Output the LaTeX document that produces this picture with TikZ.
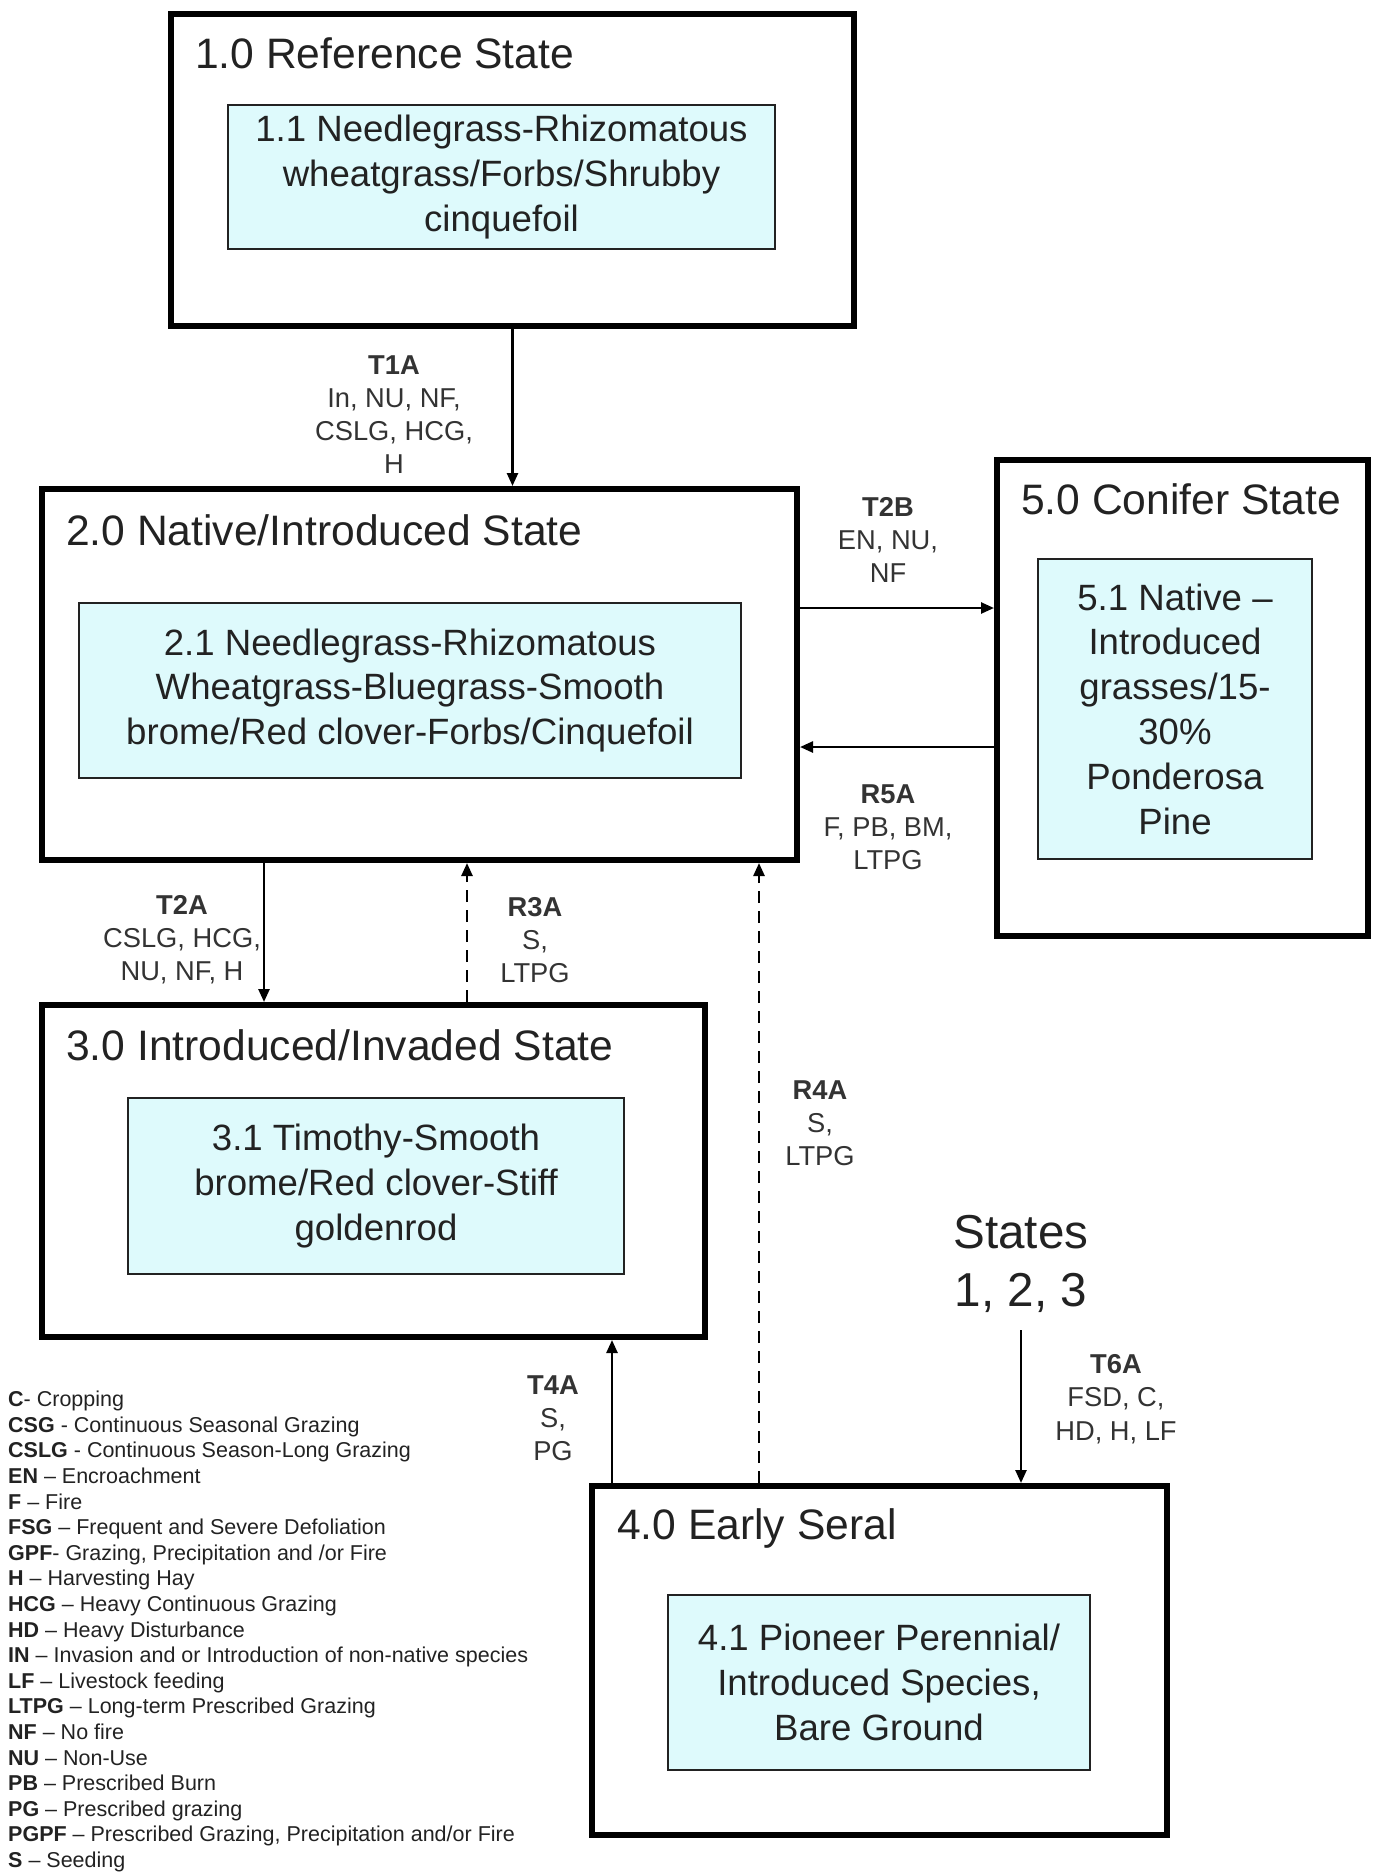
\documentclass[tikz,border=0pt]{standalone}
\usepackage{fontspec}
\setmainfont{Liberation Sans}
\usepackage{xcolor}
\usetikzlibrary{positioning}
\usetikzlibrary{arrows.meta}

\definecolor{paleblue}{RGB}{222,250,252}
\definecolor{inkgray}{RGB}{34,34,34}
\definecolor{labelgray}{RGB}{51,51,51}

\tikzset{
  statebox/.style={draw=black, line width=6pt, rectangle, inner sep=0pt},
  phasebox/.style={draw=inkgray, line width=2pt, fill=paleblue, align=center, inner sep=0pt,
    text=inkgray, font=\fontsize{36.6}{44.8}\selectfont,
    execute at begin node={\rule{0pt}{35pt}}},
  statetitle/.style={anchor=west, inner sep=0pt, text height=30.5pt, text depth=0pt,
    text=inkgray, font=\fontsize{42.6}{51}\selectfont},
  pathlabel/.style={align=center, inner sep=0pt, text=labelgray, font=\fontsize{27.3}{33.2}\selectfont},
  keyline/.style={anchor=base west, inner sep=0pt, text=inkgray, font=\fontsize{21.5}{25.6}\selectfont},
  trans/.style={-{Triangle[length=13pt,width=11pt]}, line width=2.5pt},
  restore/.style={trans, dash pattern=on 12pt off 8pt},
}

\begin{document}
\begin{tikzpicture}[x=1pt,y=-1pt]
\useasboundingbox (0,0) rectangle (1374,1872);

% state boxes
\node[statebox, minimum width=683, minimum height=312] (s1) at (512.5,170) {};
\node[statebox, minimum width=755, minimum height=371] (s2) at (419.5,674.5) {};
\node[statebox, minimum width=371, minimum height=476] (s5) at (1182.5,698) {};
\node[statebox, minimum width=663, minimum height=332] (s3) at (373.5,1171) {};
\node[statebox, minimum width=575, minimum height=349] (s4) at (879.5,1660.5) {};

\node[statetitle] (s1t) at (195,53) {1.0 Reference State};
\node[statetitle] (s2t) at (66,530) {2.0 Native/Introduced State};
\node[statetitle] (s5t) at (1021,499) {5.0 Conifer State};
\node[statetitle] (s3t) at (66,1045) {3.0 Introduced/Invaded State};
\node[statetitle] (s4t) at (617,1524) {4.0 Early Seral};

% community phases
\node[phasebox, minimum width=547, minimum height=144] (p1) at (501.5,177)
  {1.1 Needlegrass-Rhizomatous\\wheatgrass/Forbs/Shrubby\\cinquefoil};
\node[phasebox, minimum width=662, minimum height=175] (p2) at (410,690.5)
  {2.1 Needlegrass-Rhizomatous\\Wheatgrass-Bluegrass-Smooth\\brome/Red clover-Forbs/Cinquefoil};
\node[phasebox, minimum width=274, minimum height=300] (p5) at (1175,709)
  {5.1 Native --\\Introduced\\grasses/15-\\30\%\\Ponderosa\\Pine};
\node[phasebox, minimum width=496, minimum height=176] (p3) at (376,1186)
  {3.1 Timothy-Smooth\\brome/Red clover-Stiff\\goldenrod};
\node[phasebox, minimum width=422, minimum height=175] (p4) at (879,1682.5)
  {4.1 Pioneer Perennial/\\Introduced Species,\\Bare Ground};

\node[align=center, inner sep=0pt, text=inkgray, font=\fontsize{47.6}{58.5}\selectfont] (states) at (1021,1264) {States\\1, 2, 3};

% transitions and restorations
\coordinate (yt2b) at (0,608);
\coordinate (yr5a) at (0,747);
\coordinate (xt2a) at (264,0);
\coordinate (xr3a) at (467,0);
\coordinate (xr4a) at (759,0);
\coordinate (xt4a) at (612,0);

\draw[trans] (s1.south) -- (s1.south |- s2.north);
\draw[trans] (s2.east |- yt2b) -- (s5.west |- yt2b);
\draw[trans] (s5.west |- yr5a) -- (s2.east |- yr5a);
\draw[trans] (s2.south -| xt2a) -- (s3.north -| xt2a);
\draw[restore] (s3.north -| xr3a) -- (s2.south -| xr3a);
\draw[restore] (s4.north -| xr4a) -- (s2.south -| xr4a);
\draw[trans] (s4.north -| xt4a) -- (s3.south -| xt4a);
\draw[trans] (states.south) ++(0,17) -- (states.south |- s4.north);

\node[pathlabel] (l1) at (394,414.5) {\textbf{T1A}\\In, NU, NF,\\CSLG, HCG,\\H};
\node[pathlabel] (l2) at (888,540) {\textbf{T2B}\\EN, NU,\\NF};
\node[pathlabel] (l3) at (888,827) {\textbf{R5A}\\F, PB, BM,\\LTPG};
\node[pathlabel] (l4) at (182,940) {\textbf{T2A}\\CSLG, HCG,\\NU, NF, H};
\node[pathlabel] (l5) at (535,940) {\textbf{R3A}\\S,\\LTPG};
\node[pathlabel] (l6) at (820,1123) {\textbf{R4A}\\S,\\LTPG};
\node[pathlabel] (l7) at (553,1418) {\textbf{T4A}\\S,\\PG};
\node[pathlabel] (l8) at (1116,1399) {\textbf{T6A}\\FSD, C,\\HD, H, LF};

% key
\node[keyline] (k1) at (8,1406.7) {\textbf{C}- Cropping};
\node[keyline] (k2) at (8,1432.3) {\textbf{CSG} - Continuous Seasonal Grazing};
\node[keyline] (k3) at (8,1457.9) {\textbf{CSLG} - Continuous Season-Long Grazing};
\node[keyline] (k4) at (8,1483.5) {\textbf{EN} -- Encroachment};
\node[keyline] (k5) at (8,1509.1) {\textbf{F} -- Fire};
\node[keyline] (k6) at (8,1534.7) {\textbf{FSG} -- Frequent and Severe Defoliation};
\node[keyline] (k7) at (8,1560.3) {\textbf{GPF}- Grazing, Precipitation and /or Fire};
\node[keyline] (k8) at (8,1585.9) {\textbf{H} -- Harvesting Hay};
\node[keyline] (k9) at (8,1611.5) {\textbf{HCG} -- Heavy Continuous Grazing};
\node[keyline] (k10) at (8,1637.1) {\textbf{HD} -- Heavy Disturbance};
\node[keyline] (k11) at (8,1662.7) {\textbf{IN} -- Invasion and or Introduction of non-native species};
\node[keyline] (k12) at (8,1688.3) {\textbf{LF} -- Livestock feeding};
\node[keyline] (k13) at (8,1713.9) {\textbf{LTPG} -- Long-term Prescribed Grazing};
\node[keyline] (k14) at (8,1739.5) {\textbf{NF} -- No fire};
\node[keyline] (k15) at (8,1765.1) {\textbf{NU} -- Non-Use};
\node[keyline] (k16) at (8,1790.7) {\textbf{PB} -- Prescribed Burn};
\node[keyline] (k17) at (8,1816.3) {\textbf{PG} -- Prescribed grazing};
\node[keyline] (k18) at (8,1841.9) {\textbf{PGPF} -- Prescribed Grazing, Precipitation and/or Fire};
\node[keyline] (k19) at (8,1867.5) {\textbf{S} -- Seeding};

\end{tikzpicture}
\end{document}
